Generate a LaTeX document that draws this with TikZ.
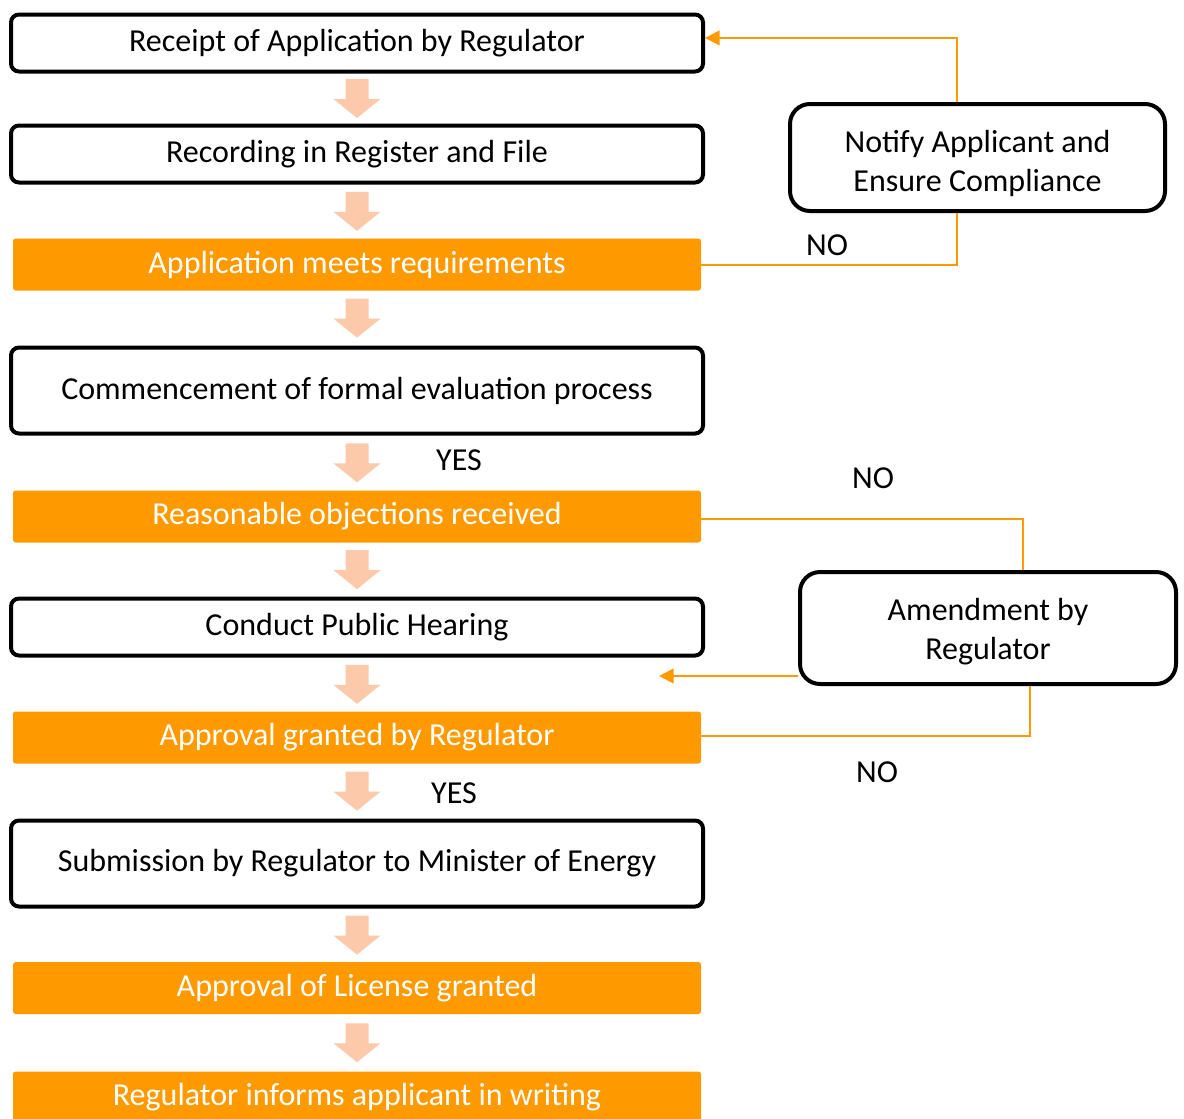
\documentclass[tikz,border=0pt]{standalone}
\usepackage{fontspec}
\setmainfont{Carlito}
\usetikzlibrary{calc,arrows.meta}
\definecolor{flowOrange}{RGB}{255,153,0}
\definecolor{peach}{RGB}{252,202,170}
\begin{document}
\begin{tikzpicture}[x=0.75pt,y=-0.75pt,
  every node/.style={font=\fontsize{24}{29.25}\selectfont},
  stage/.style={draw=black, line width=3pt, rounded corners=6pt, fill=white,
    minimum width=519pt, minimum height=42.75pt, inner sep=0pt, align=center},
  tallstage/.style={stage, minimum height=64.5pt},
  decision/.style={fill=flowOrange, text=white, rounded corners=2pt,
    minimum width=516pt, minimum height=39pt, inner sep=0pt},
  sidebox/.style={draw=black, line width=3pt, rounded corners=15pt, fill=white,
    align=center, inner sep=0pt},
  feedback/.style={draw=flowOrange, line width=1.5pt},
  feedarrow/.style={feedback, -{Triangle[length=11pt,width=11pt]}},
  answer/.style={text=black, inner sep=0pt},
  pics/downarrow/.style={code={
    \fill[peach] (-11.5,-19.5) -- (11.5,-19.5) -- (11.5,0.5) -- (23.5,0.5)
      -- (0,19.5) -- (-23.5,0.5) -- (-11.5,0.5) -- cycle;}}
]
\useasboundingbox (0,0) rectangle (1184,1118);
\fill[white] (0,0) rectangle (1184,1118);

% main sequence of steps
\node[stage] (r1) at (357,43) {Receipt of Application by Regulator};
\node[stage] (r2) at (357,154) {Recording in Register and File};
\node[decision] (d1) at (357,264.5) {Application meets requirements};
\node[tallstage] (r3) at (357,390.5) {Commencement of formal evaluation process};
\node[decision] (d2) at (357,516.5) {Reasonable objections received};
\node[stage] (r4) at (357,627) {Conduct Public Hearing};
\node[decision] (d3) at (357,737.5) {Approval granted by Regulator};
\node[tallstage] (r5) at (357,863.5) {Submission by Regulator to Minister of Energy};
\node[decision] (d4) at (357,988) {Approval of License granted};
\node[decision] (d5) at (357,1097.5) {Regulator informs applicant in writing};

% side actions
\node[sidebox, minimum width=281.25pt, minimum height=80.25pt, text height=55pt]
  (notify) at (977.5,157.5) {Notify Applicant and\\Ensure Compliance};
\node[sidebox, minimum width=282pt, minimum height=84pt, text height=52pt]
  (amend) at (988,628) {Amendment by\\Regulator};

% block arrows between consecutive steps
\foreach \a/\b in {r1/r2, r2/d1, d1/r3, r3/d2, d2/r4, r4/d3, d3/r5, r5/d4, d4/d5}
  \path ($(\a.south)!0.5!(\b.north)$) pic {downarrow};

% feedback loops
\draw[feedarrow] ([xshift=-15.4pt]notify.north) |- ([yshift=3.8pt]r1.east);
\draw[feedback] (d1.east) -| ([xshift=-15.4pt]notify.south);
\draw[feedback] ([yshift=-2pt]d2.east) -| ([xshift=26.25pt]amend.north);
\coordinate (hearingtip) at (659,676);
\draw[feedarrow] ([yshift=-36pt]amend.west) -- (hearingtip);
\draw[feedback] ([yshift=1.5pt]d3.east) -| ([xshift=31.5pt]amend.south);

% branch labels
\node[answer] (no1) at (827,245) {NO};
\node[answer] (no2) at (873,478) {NO};
\node[answer] (no3) at (877,772) {NO};
\node[answer] (yes1) at (459,460) {YES};
\node[answer] (yes2) at (454,793) {YES};
\end{tikzpicture}
\end{document}
